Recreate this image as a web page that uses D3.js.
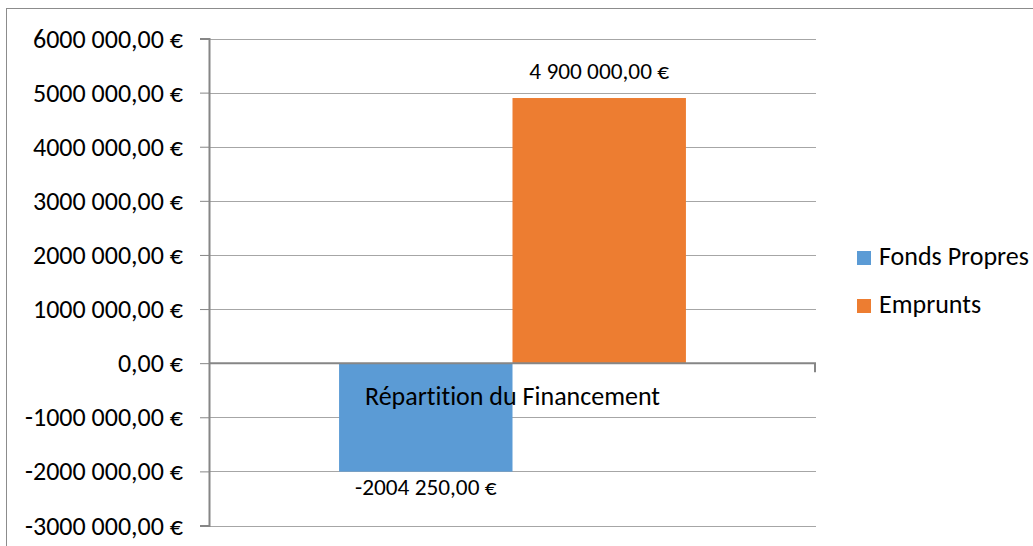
<!DOCTYPE html>
<html>
<head>
<meta charset="utf-8">
<script src="https://cdn.jsdelivr.net/npm/d3@7"></script>
<style>
  html, body { margin: 0; padding: 0; background: #fff; }
  svg { display: block; }
  text { font-family: Carlito, "Open Sans", sans-serif; fill: #000; font-variant-ligatures: none; font-feature-settings: "liga" 0, "clig" 0; }
</style>
</head>
<body>
<svg id="chart" width="1033" height="546"></svg>
<script>
const categories = ["Répartition du Financement"];
const seriesNames = ["Fonds Propres", "Emprunts"];
const fondsPropres = [-2004250];
const emprunts = [4900000];
const seriesColors = ["#5B9BD5", "#ED7D31"];
const dataLabels = [["-2004 250,00 €"], ["4 900 000,00 €"]];
const yTickValues = [-3000000, -2000000, -1000000, 0, 1000000, 2000000, 3000000, 4000000, 5000000, 6000000];
const yTickLabels = ["-3000 000,00 €", "-2000 000,00 €", "-1000 000,00 €", "0,00 €", "1000 000,00 €", "2000 000,00 €", "3000 000,00 €", "4000 000,00 €", "5000 000,00 €", "6000 000,00 €"];

const seriesValues = [fondsPropres, emprunts];
const svg = d3.select("#chart");

// outer chart border
svg.append("rect").attr("x", 6.5).attr("y", 8.5).attr("width", 1100).attr("height", 600)
  .attr("fill", "none").attr("stroke", "#8c8c8c").attr("stroke-width", 1);

const plot = { left: 209, right: 816, top: 38.5, bottom: 525.5 };

const y = d3.scaleLinear().domain([-3000000, 6000000]).range([plot.bottom, plot.top]);
const x0 = d3.scaleBand().domain(categories).range([plot.left, plot.right]).padding(0);
const x1 = d3.scaleBand().domain(seriesNames).range([0, x0.bandwidth()]).paddingInner(0).paddingOuter(0.75);

// gridlines
svg.append("g").selectAll("line").data(yTickValues.filter(v => v !== 0)).join("line")
  .attr("x1", plot.left).attr("x2", plot.right)
  .attr("y1", d => Math.round(y(d)) + 0.5).attr("y2", d => Math.round(y(d)) + 0.5)
  .attr("stroke", "#a6a6a6").attr("stroke-width", 1);

// y axis
const yAxis = d3.axisLeft(y).tickValues(yTickValues)
  .tickFormat((d, i) => yTickLabels[i]).tickSize(9).tickPadding(17);
const gy = svg.append("g").attr("transform", `translate(${plot.left},0)`).call(yAxis);
gy.select(".domain").attr("stroke", "#868686").attr("stroke-width", 2);
gy.selectAll(".tick line").attr("stroke", "#868686").attr("stroke-width", 1);
gy.selectAll(".tick text").attr("font-size", 26).attr("fill", "#000")
  .attr("font-family", 'Carlito, "Open Sans", sans-serif').attr("dy", "0.33em");

// bars
const groups = svg.append("g").selectAll("g").data(categories).join("g")
  .attr("transform", d => `translate(${x0(d)},0)`);
seriesNames.forEach((s, si) => {
  groups.append("rect")
    .attr("x", x1(s))
    .attr("width", x1.bandwidth())
    .attr("y", (d, ci) => y(Math.max(0, seriesValues[si][ci])))
    .attr("height", (d, ci) => Math.abs(y(seriesValues[si][ci]) - y(0)))
    .attr("fill", seriesColors[si]);
  groups.append("text")
    .attr("x", x1(s) + x1.bandwidth() / 2)
    .attr("y", (d, ci) => {
      const v = seriesValues[si][ci];
      return v >= 0 ? y(v) - 19 : y(v) + 23;
    })
    .attr("text-anchor", "middle").attr("font-size", 23.3)
    .text((d, ci) => dataLabels[si][ci]);
});

// category axis at zero
const xAxis = d3.axisBottom(x0).tickSize(0).tickFormat(d => d);
const gx = svg.append("g").attr("transform", `translate(0,${y(0)})`).call(xAxis);
gx.select(".domain").attr("stroke", "#868686").attr("stroke-width", 2)
  .attr("d", `M${plot.left},0H${plot.right - 1}V9`);
gx.selectAll(".tick text").attr("font-size", 26).attr("fill", "#000")
  .attr("font-family", 'Carlito, "Open Sans", sans-serif').attr("y", 0).attr("dy", 41.8);

// legend
const legend = svg.append("g").selectAll("g").data(seriesNames).join("g")
  .attr("transform", (d, i) => `translate(857,${251 + i * 48})`);
legend.append("rect").attr("width", 14).attr("height", 14).attr("fill", (d, i) => seriesColors[i]);
legend.append("text").attr("x", 22).attr("y", 14).attr("font-size", 26).text(d => d);
</script>
</body>
</html>
